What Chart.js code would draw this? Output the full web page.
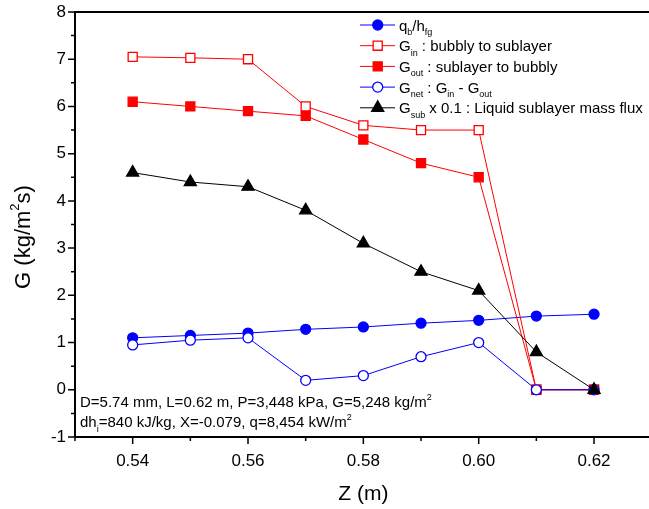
<!DOCTYPE html>
<html>
<head>
<meta charset="utf-8">
<script src="https://cdn.jsdelivr.net/npm/chart.js@4/dist/chart.umd.min.js"></script>
<style>
body{margin:0;background:#fff;overflow:hidden}
#okvir{width:649px;height:509px;overflow:hidden}
</style>
</head>
<body>
<div id="okvir"><canvas id="grafik" width="660" height="509"></canvas></div>
<script>
// polozaji Z (m)
var zPolozaji = [0.54, 0.55, 0.56, 0.57, 0.58, 0.59, 0.60, 0.61, 0.62];
// serije G (kg/m2s)
var qbHfg = [1.10, 1.15, 1.20, 1.28, 1.33, 1.41, 1.47, 1.56, 1.60];
var gIn   = [7.05, 7.03, 7.00, 6.00, 5.60, 5.50, 5.50, 0.00, 0.00];
var gOut  = [6.10, 6.00, 5.90, 5.80, 5.30, 4.80, 4.50, 0.00, 0.00];
var gNet  = [0.95, 1.05, 1.10, 0.20, 0.30, 0.70, 1.00, 0.00, 0.00];
var gSub  = [4.60, 4.40, 4.30, 3.80, 3.10, 2.50, 2.10, 0.80, 0.00];

var xOznake = [0.54, 0.56, 0.58, 0.60, 0.62];
var yOznake = [-1, 0, 1, 2, 3, 4, 5, 6, 7, 8];

// legenda: delovi teksta, '' = obicno, 'sub' = indeks, 'sup' = eksponent
var legendaTekst = [
  [['q', ''], ['b', 'sub'], ['/h', ''], ['fg', 'sub']],
  [['G', ''], ['in', 'sub'], [' : bubbly to sublayer', '']],
  [['G', ''], ['out', 'sub'], [' : sublayer to bubbly', '']],
  [['G', ''], ['net', 'sub'], [' : G', ''], ['in', 'sub'], [' - G', ''], ['out', 'sub']],
  [['G', ''], ['sub', 'sub'], [' x 0.1 : Liquid sublayer mass flux', '']]
];
var napomena = [
  [['D=5.74 mm, L=0.62 m, P=3,448 kPa, G=5,248 kg/m', ''], ['2', 'sup']],
  [['dh', ''], ['i', 'sub'], ['=840 kJ/kg, X=-0.079, q=8,454 kW/m', ''], ['2', 'sup']]
];
var yNaslov = [['G (kg/m', ''], ['2', 'sup'], ['s)', '']];

var FONT = '"Liberation Sans", Arial, sans-serif';

function tacke(niz) {
  var out = [];
  for (var i = 0; i < zPolozaji.length; i++) out.push({x: zPolozaji[i], y: niz[i]});
  return out;
}

function sirina(ctx, delovi, vel) {
  var w = 0;
  delovi.forEach(function (d) {
    ctx.font = (d[1] ? Math.round(vel * 0.6) : vel) + 'px ' + FONT;
    w += ctx.measureText(d[0]).width;
  });
  return w;
}

function pisi(ctx, delovi, x, y, vel) {
  delovi.forEach(function (d) {
    var s = d[1] ? Math.round(vel * 0.6) : vel;
    var dy = d[1] === 'sub' ? vel * 0.3 : (d[1] === 'sup' ? -vel * 0.5 : 0);
    ctx.font = s + 'px ' + FONT;
    ctx.fillText(d[0], x, y + dy);
    x += ctx.measureText(d[0]).width;
  });
}

var serije = [
  {label: 'qb/hfg', data: tacke(qbHfg), borderColor: '#0000ff', backgroundColor: '#0000ff', pointStyle: 'circle', pointRadius: 5},
  {label: 'Gin', data: tacke(gIn), borderColor: '#ff0000', backgroundColor: '#ffffff', pointStyle: 'rect', pointRadius: 6.4},
  {label: 'Gout', data: tacke(gOut), borderColor: '#ff0000', backgroundColor: '#ff0000', pointStyle: 'rect', pointRadius: 6.4},
  {label: 'Gnet', data: tacke(gNet), borderColor: '#0000ff', backgroundColor: '#ffffff', pointStyle: 'circle', pointRadius: 5},
  {label: 'Gsub', data: tacke(gSub), borderColor: '#000000', backgroundColor: '#000000', pointStyle: 'triangle', pointRadius: 7}
];
serije.forEach(function (s, i) {
  s.borderWidth = 1;
  s.pointBorderWidth = 1.3;
  s.pointBackgroundColor = s.backgroundColor;
  s.pointBorderColor = s.borderColor;
  s.tension = 0;
  s.fill = false;
  s.order = serije.length - i; // zadnja serija se crta na vrhu
});

var ukras = {
  id: 'ukras',
  afterDraw: function (chart) {
    var ctx = chart.ctx, a = chart.chartArea, sx = chart.scales.x, sy = chart.scales.y;
    ctx.save();
    ctx.strokeStyle = '#000';
    ctx.lineWidth = 2;
    ctx.beginPath();
    ctx.moveTo(a.left, a.bottom); ctx.lineTo(a.left, a.top); ctx.lineTo(a.right, a.top); ctx.lineTo(a.right, a.bottom); ctx.lineTo(a.left, a.bottom);
    ctx.stroke();
    // crtice na osama
    ctx.lineWidth = 1.5;
    ctx.beginPath();
    for (var k = 53; k <= 63; k++) {
      var px = sx.getPixelForValue(k / 100);
      ctx.moveTo(px, a.bottom); ctx.lineTo(px, a.bottom + (k % 2 === 0 ? 7 : 4));
    }
    for (var j = -2; j <= 16; j++) {
      var py = sy.getPixelForValue(j / 2);
      ctx.moveTo(a.left, py); ctx.lineTo(a.left - (j % 2 === 0 ? 7 : 4), py);
    }
    ctx.stroke();
    // legenda
    ctx.fillStyle = '#000';
    ctx.textBaseline = 'alphabetic';
    serije.forEach(function (s, i) {
      var y = 25 + i * 20.7;
      ctx.strokeStyle = s.borderColor;
      ctx.lineWidth = 1;
      ctx.beginPath(); ctx.moveTo(360, y); ctx.lineTo(395, y); ctx.stroke();
      ctx.fillStyle = s.backgroundColor;
      ctx.lineWidth = 1.3;
      Chart.helpers.drawPoint(ctx, {pointStyle: s.pointStyle, radius: s.pointRadius, borderWidth: 1.3, rotation: 0}, 377.7, y);
      ctx.fillStyle = '#000';
      pisi(ctx, legendaTekst[i], 399, y + 5.5, 15);
    });
    // napomena
    pisi(ctx, napomena[0], 80, 407, 15);
    pisi(ctx, napomena[1], 80, 427, 15);
    // naslov y ose
    ctx.translate(30, 237);
    ctx.rotate(-Math.PI / 2);
    pisi(ctx, yNaslov, -sirina(ctx, yNaslov, 22) / 2, 0, 22);
    ctx.restore();
  }
};

new Chart(document.getElementById('grafik').getContext('2d'), {
  type: 'line',
  data: {datasets: serije},
  options: {
    responsive: false,
    animation: false,
    devicePixelRatio: 1,
    layout: {padding: {top: 12, right: 6, left: 0, bottom: 0}},
    plugins: {legend: {display: false}, tooltip: {enabled: false}},
    scales: {
      x: {
        type: 'linear', min: 0.53, max: 0.63,
        afterFit: function (s) { s.height = 72; s.paddingLeft = 0; s.paddingRight = 0; },
        afterBuildTicks: function (s) { s.ticks = xOznake.map(function (v) { return {value: v}; }); },
        grid: {display: false, drawTicks: false},
        border: {display: false},
        ticks: {
          autoSkip: false, maxRotation: 0, padding: 14, color: '#000',
          font: {family: FONT, size: 17},
          callback: function (v) { return v.toFixed(2); }
        },
        title: {display: true, text: 'Z (m)', color: '#000', font: {family: FONT, size: 21}, padding: {top: 0, bottom: 2}}
      },
      y: {
        type: 'linear', min: -1, max: 8,
        afterFit: function (s) { s.width = 75; s.paddingTop = 0; s.paddingBottom = 0; },
        afterBuildTicks: function (s) { s.ticks = yOznake.map(function (v) { return {value: v}; }); },
        grid: {display: false, drawTicks: false},
        border: {display: false},
        ticks: {padding: 9, color: '#000', font: {family: FONT, size: 17}}
      }
    }
  },
  plugins: [ukras]
});
</script>
</body>
</html>
